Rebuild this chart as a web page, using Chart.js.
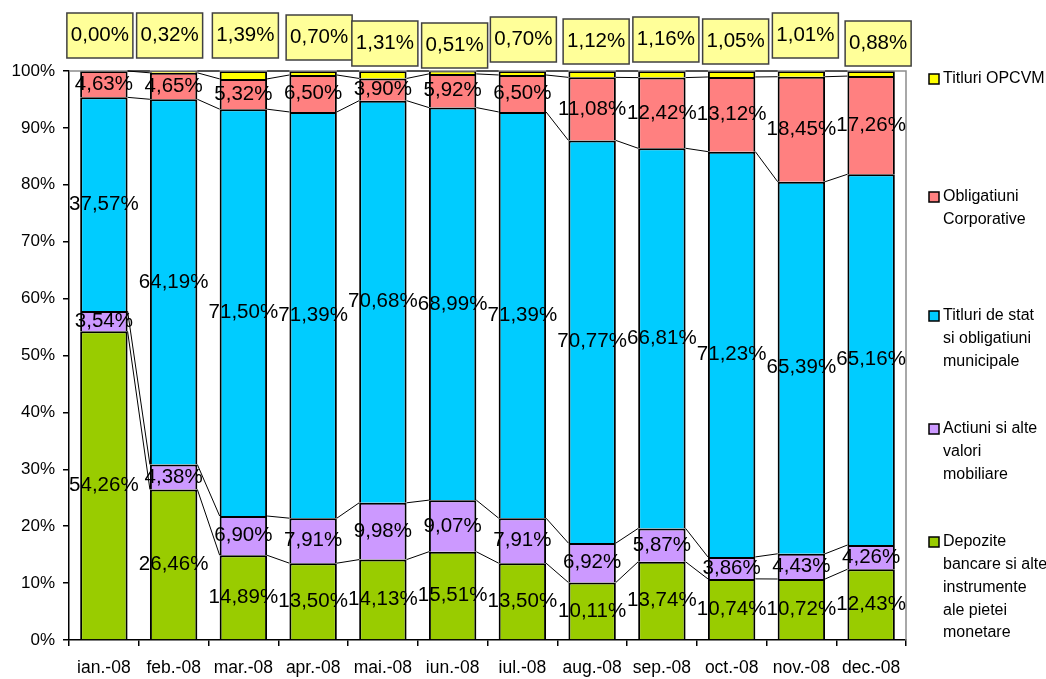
<!DOCTYPE html>
<html>
<head>
<meta charset="utf-8">
<script src="https://cdn.jsdelivr.net/npm/chart.js@4/dist/chart.umd.min.js"></script>
<style>
    html, body { margin: 0; padding: 0; background: #fff; }
    #wrap { width: 1046px; height: 679px; position: relative; }
</style>
</head>
<body>
<div id="wrap"><canvas id="structChart"></canvas></div>
<script>
const months = ["ian.-08", "feb.-08", "mar.-08", "apr.-08", "mai.-08", "iun.-08",
    "iul.-08", "aug.-08", "sep.-08", "oct.-08", "nov.-08", "dec.-08"];

const depozite = [54.26, 26.46, 14.89, 13.50, 14.13, 15.51, 13.50, 10.11, 13.74, 10.74, 10.72, 12.43];
const actiuni = [3.54, 4.38, 6.90, 7.91, 9.98, 9.07, 7.91, 6.92, 5.87, 3.86, 4.43, 4.26];
const titluriStat = [37.57, 64.19, 71.50, 71.39, 70.68, 68.99, 71.39, 70.77, 66.81, 71.23, 65.39, 65.16];
const obligatiuni = [4.63, 4.65, 5.32, 6.50, 3.90, 5.92, 6.50, 11.08, 12.42, 13.12, 18.45, 17.26];
const opcvm = [0.00, 0.32, 1.39, 0.70, 1.31, 0.51, 0.70, 1.12, 1.16, 1.05, 1.01, 0.88];

const yTicks = [0, 10, 20, 30, 40, 50, 60, 70, 80, 90, 100];

const FONT = "'Liberation Sans', Arial, sans-serif";

function pct(v) {
    return v.toFixed(2).replace(".", ",") + "%";
}

// where the legend entries sit (first line y) and their wrapped text
const legendLayout = [
    { y: 79, lines: ["Titluri OPCVM"] },
    { y: 197, lines: ["Obligatiuni", "Corporative"] },
    { y: 316, lines: ["Titluri de stat", "si obligatiuni", "municipale"] },
    { y: 429, lines: ["Actiuni si alte", "valori", "mobiliare"] },
    { y: 542, lines: ["Depozite", "bancare si alte", "instrumente", "ale pietei", "monetare"] }
];

// the OPCVM labels were dragged above the plot: [dx from bar centre, top]
const boxNudge = [[-4, 13], [-4, 13], [2, 13], [6, 15], [2, 21], [2, 23],
    [1, 17], [4, 19], [4, 17], [4, 19], [4, 13], [7, 21]];

const plotFrame = {
    id: "plotFrame",
    afterDatasetsDraw(chart) {
        const { ctx, chartArea: a } = chart;
        ctx.save();
        ctx.strokeStyle = "#8c8c8c";
        ctx.lineWidth = 1.5;
        ctx.beginPath();
        ctx.moveTo(a.left, a.top);
        ctx.lineTo(a.right, a.top);
        ctx.lineTo(a.right, a.bottom);
        ctx.stroke();
        ctx.restore();
    }
};

const seriesLines = {
    id: "seriesLines",
    afterDatasetsDraw(chart) {
        const ctx = chart.ctx;
        ctx.save();
        ctx.strokeStyle = "#000";
        ctx.lineWidth = 1;
        chart.data.datasets.forEach((ds, di) => {
            const bars = chart.getDatasetMeta(di).data;
            for (let i = 0; i < bars.length - 1; i++) {
                const a = bars[i].getProps(["x", "y", "width"], true);
                const b = bars[i + 1].getProps(["x", "y", "width"], true);
                ctx.beginPath();
                ctx.moveTo(a.x + a.width / 2, a.y);
                ctx.lineTo(b.x - b.width / 2, b.y);
                ctx.stroke();
            }
        });
        ctx.restore();
    }
};

const valueLabels = {
    id: "valueLabels",
    afterDatasetsDraw(chart) {
        const ctx = chart.ctx;
        ctx.save();
        ctx.font = "20.5px " + FONT;
        ctx.fillStyle = "#000";
        ctx.textAlign = "center";
        ctx.textBaseline = "middle";
        chart.data.datasets.forEach((ds, di) => {
            const meta = chart.getDatasetMeta(di);
            meta.data.forEach((bar, i) => {
                const p = bar.getProps(["x", "y", "base"], true);
                const text = pct(ds.data[i]);
                if (ds.boxed) {
                    const [dx, top] = boxNudge[i];
                    const w = 66, h = 45;
                    const left = p.x + dx - w / 2;
                    ctx.fillStyle = "#ffff99";
                    ctx.fillRect(left, top, w, h);
                    ctx.strokeStyle = "#404040";
                    ctx.lineWidth = 1.5;
                    ctx.strokeRect(left, top, w, h);
                    ctx.fillStyle = "#000";
                    ctx.fillText(text, p.x + dx, top + h / 2);
                } else {
                    ctx.fillText(text, p.x, (p.y + p.base) / 2);
                }
            });
        });
        ctx.restore();
    }
};

const sideLegend = {
    id: "sideLegend",
    afterDraw(chart) {
        const ctx = chart.ctx;
        const sets = chart.data.datasets.slice().reverse();
        ctx.save();
        ctx.font = "16px " + FONT;
        ctx.textBaseline = "middle";
        ctx.textAlign = "left";
        legendLayout.forEach((item, k) => {
            const ds = sets[k];
            ctx.fillStyle = ds.backgroundColor;
            ctx.fillRect(929, item.y - 5, 10, 10);
            ctx.strokeStyle = "#000";
            ctx.lineWidth = 1.5;
            ctx.strokeRect(929, item.y - 5, 10, 10);
            ctx.fillStyle = "#000";
            item.lines.forEach((line, j) => {
                ctx.fillText(line, 943, item.y + j * 22.7);
            });
        });
        ctx.restore();
    }
};

function makeSet(label, data, color, boxed) {
    return {
        label: label,
        data: data,
        backgroundColor: color,
        borderColor: "#000",
        borderWidth: 2,
        borderSkipped: "start",
        barPercentage: 0.68,
        categoryPercentage: 1,
        boxed: boxed
    };
}

new Chart(document.getElementById("structChart"), {
    type: "bar",
    data: {
        labels: months,
        datasets: [
            makeSet("Depozite bancare si alte instrumente ale pietei monetare", depozite, "#99cc00", false),
            makeSet("Actiuni si alte valori mobiliare", actiuni, "#cc99ff", false),
            makeSet("Titluri de stat si obligatiuni municipale", titluriStat, "#00ccff", false),
            makeSet("Obligatiuni Corporative", obligatiuni, "#ff8080", false),
            makeSet("Titluri OPCVM", opcvm, "#ffff00", true)
        ]
    },
    options: {
        responsive: true,
        maintainAspectRatio: false,
        animation: false,
        layout: { padding: { left: 0, right: 140, top: 71, bottom: 0 } },
        plugins: {
            legend: { display: false },
            tooltip: { enabled: false }
        },
        scales: {
            x: {
                stacked: true,
                grid: { drawOnChartArea: false, color: "#000", tickLength: 6, lineWidth: 1.5 },
                border: { color: "#000", width: 1.5 },
                ticks: { color: "#000", font: { family: FONT, size: 17.5 }, padding: 12, maxRotation: 0 },
                afterFit(scale) { scale.height = 39; }
            },
            y: {
                stacked: true,
                min: 0,
                max: 100,
                afterBuildTicks(scale) { scale.ticks = yTicks.map((v) => ({ value: v })); },
                grid: { drawOnChartArea: false, color: "#000", tickLength: 6, lineWidth: 1.5 },
                border: { color: "#000", width: 1.5 },
                ticks: {
                    color: "#000",
                    font: { family: FONT, size: 17 },
                    padding: 8,
                    callback: (v) => v + "%"
                },
                afterFit(scale) { scale.width = 69; }
            }
        }
    },
    plugins: [plotFrame, seriesLines, valueLabels, sideLegend]
});
</script>
</body>
</html>
